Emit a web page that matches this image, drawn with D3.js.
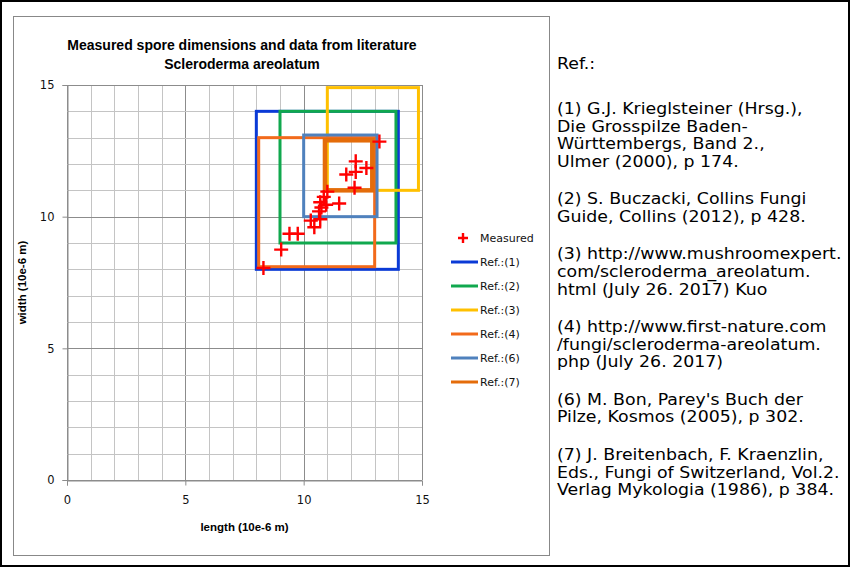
<!DOCTYPE html>
<html><head><meta charset="utf-8">
<script src="https://cdn.jsdelivr.net/npm/d3@7"></script>
<style>body{margin:0;background:#fff}svg{display:block}</style>
</head><body>
<script>
// ---- data ----
const chartTitle = ["Measured spore dimensions and data from literature", "Scleroderma areolatum"];
const xLabel = "length (10e-6 m)";
const yLabel = "width (10e-6 m)";
const tickValues = [0, 5, 10, 15];
const gridValues = d3.range(0, 16);
const measuredLength = [8.3, 9.05, 9.4, 9.75, 10.3, 10.45, 10.7, 10.65, 10.75, 10.7, 10.85, 11.0, 10.95, 11.5, 12.15, 11.8, 12.2, 12.2, 12.65, 13.2];
const measuredWidth  = [8.05, 8.75, 9.35, 9.35, 9.85, 9.6, 9.9, 10.2, 10.35, 10.55, 10.75, 10.95, 10.45, 10.5, 11.1, 11.6, 11.7, 12.1, 11.85, 12.85];
const refNames   = ["Ref.:(1)", "Ref.:(2)", "Ref.:(3)", "Ref.:(4)", "Ref.:(6)", "Ref.:(7)"];
const refLenMin  = [8, 9, 11, 8.1, 10, 10.9];
const refLenMax  = [14, 13.9, 14.85, 13, 13.1, 12.9];
const refWidMin  = [8, 9, 11, 8.1, 10, 11];
const refWidMax  = [14, 14, 14.9, 13, 13.1, 12.9];
const refColors  = ["#0a3ad6", "#10a84e", "#ffc000", "#f26a1b", "#4f81bd", "#e46c0a"];
const refWidths  = [3, 3, 3, 3, 3, 4.5];
const refParagraphs = [
  ["Ref.:"],
  ["(1) G.J. Krieglsteiner (Hrsg.),", "Die Grosspilze Baden-", "Württembergs, Band 2.,", "Ulmer (2000), p 174."],
  ["(2) S. Buczacki, Collins Fungi", "Guide, Collins (2012), p 428."],
  ["(3) http://www.mushroomexpert.", "com/scleroderma_areolatum.", "html (July 26. 2017) Kuo"],
  ["(4) http://www.first-nature.com", "/fungi/scleroderma-areolatum.", "php (July 26. 2017)"],
  ["(6) M. Bon, Parey's Buch der", "Pilze, Kosmos (2005), p 302."],
  ["(7) J. Breitenbach, F. Kraenzlin,", "Eds., Fungi of Switzerland, Vol.2.", "Verlag Mykologia (1986), p 384."]
];

// ---- layout ----
const W = 850, H = 567;
const plot = {left: 67, right: 422, top: 85, bottom: 480};
const svg = d3.select("body").append("svg").attr("width", W).attr("height", H);

svg.append("rect").attr("x", 1).attr("y", 1).attr("width", W - 2).attr("height", H - 2)
  .attr("fill", "#fff").attr("stroke", "#000").attr("stroke-width", 2);
svg.append("rect").attr("x", 13.5).attr("y", 16.5).attr("width", 536).attr("height", 539)
  .attr("fill", "#fff").attr("stroke", "#888").attr("stroke-width", 1);

const x = d3.scaleLinear().domain([0, 15]).range([plot.left, plot.right]);
const y = d3.scaleLinear().domain([0, 15]).range([plot.bottom, plot.top]);

const sans = "Tahoma, 'DejaVu Sans', Verdana, sans-serif";
const boldFont = "'Liberation Sans', Arial, sans-serif";

// grid
const g = svg.append("g");
g.selectAll("line.vg").data(gridValues).join("line")
  .attr("x1", d => Math.round(x(d)) + 0.5).attr("x2", d => Math.round(x(d)) + 0.5)
  .attr("y1", plot.top).attr("y2", plot.bottom)
  .attr("stroke", d => d % 5 === 0 ? "#8c8c8c" : "#c4c4c4").attr("stroke-width", 1);
g.selectAll("line.hg").data(gridValues).join("line")
  .attr("y1", d => Math.round(y(d)) + 0.5).attr("y2", d => Math.round(y(d)) + 0.5)
  .attr("x1", plot.left).attr("x2", plot.right)
  .attr("stroke", d => d % 5 === 0 ? "#8c8c8c" : "#c4c4c4").attr("stroke-width", 1);

// axes
const xAxis = d3.axisBottom(x).tickValues(tickValues).tickSize(5).tickPadding(10).tickFormat(d3.format("d"));
const yAxis = d3.axisLeft(y).tickValues(tickValues).tickSize(5).tickPadding(8).tickFormat(d3.format("d"));
const gx = svg.append("g").attr("transform", `translate(0,${plot.bottom + 0.5})`).call(xAxis);
const gy = svg.append("g").attr("transform", `translate(${plot.left + 0.5},0)`).call(yAxis);
[gx, gy].forEach(a => {
  a.select(".domain").attr("stroke", "#8c8c8c");
  a.selectAll(".tick line").attr("stroke", "#8c8c8c");
  a.selectAll(".tick text").attr("font-family", sans).attr("font-size", 11.5).attr("fill", "#111");
});

// reference boxes
const refIdx = d3.range(refNames.length);
svg.append("g").selectAll("rect").data(refIdx).join("rect")
  .attr("x", i => x(refLenMin[i])).attr("y", i => y(refWidMax[i]))
  .attr("width", i => x(refLenMax[i]) - x(refLenMin[i]))
  .attr("height", i => y(refWidMin[i]) - y(refWidMax[i]))
  .attr("fill", "none").attr("stroke", i => refColors[i]).attr("stroke-width", i => refWidths[i]);

// measured markers
const ms = 7;
const mg = svg.append("g").attr("stroke", "#ff0000").attr("stroke-width", 2.4);
mg.selectAll("path").data(d3.range(measuredLength.length)).join("path")
  .attr("d", i => {
    const cx = x(measuredLength[i]), cy = y(measuredWidth[i]);
    return `M${cx - ms},${cy}H${cx + ms}M${cx},${cy - ms}V${cy + ms}`;
  });

// titles
svg.append("g").selectAll("text").data(chartTitle).join("text")
  .attr("x", 242).attr("y", (d, i) => 50 + i * 19).attr("text-anchor", "middle")
  .attr("font-family", boldFont).attr("font-weight", "bold")
  .attr("font-size", 14).attr("fill", "#000").text(d => d);
svg.append("text").attr("x", (plot.left + plot.right) / 2).attr("y", 531).attr("text-anchor", "middle")
  .attr("font-family", boldFont).attr("font-weight", "bold")
  .attr("font-size", 11.5).text(xLabel);
svg.append("text").attr("transform", `translate(26,${(plot.top + plot.bottom) / 2}) rotate(-90)`)
  .attr("text-anchor", "middle").attr("font-family", boldFont)
  .attr("font-weight", "bold").attr("font-size", 11.5).text(yLabel);

// legend
const legX = 451, legY0 = 238, legStep = 24;
const leg = svg.append("g").attr("font-family", sans).attr("font-size", 11).attr("fill", "#111");
leg.append("path").attr("d", `M${463 - 5},${legY0}H${463 + 5}M463,${legY0 - 5}V${legY0 + 5}`)
  .attr("stroke", "#ff0000").attr("stroke-width", 2.4);
leg.append("text").attr("x", 480).attr("y", legY0 + 4).text("Measured");
refIdx.forEach(i => {
  const ly = legY0 + (i + 1) * legStep;
  leg.append("line").attr("x1", legX).attr("x2", legX + 27).attr("y1", ly).attr("y2", ly)
    .attr("stroke", refColors[i]).attr("stroke-width", 3);
  leg.append("text").attr("x", legX + 29).attr("y", ly + 4).text(refNames[i]);
});

// reference text (slightly widened glyphs, tight leading as in the original)
const rtFont = 15.1, rtStretch = 1.15;
const rt = svg.append("g").attr("font-family", "'DejaVu Sans', Verdana, sans-serif")
  .attr("font-size", rtFont).attr("fill", "#000");
const lineH = 17.6, paraStep = 37.5, firstStep = 45;
let cy = 69;
refParagraphs.forEach((p, pi) => {
  p.forEach((line, li) => {
    rt.append("text")
      .attr("transform", `translate(557,${cy + li * lineH}) scale(${rtStretch},1.04)`)
      .text(line);
  });
  cy += (p.length - 1) * lineH + (pi === 0 ? firstStep : paraStep);
});
</script>
</body></html>
